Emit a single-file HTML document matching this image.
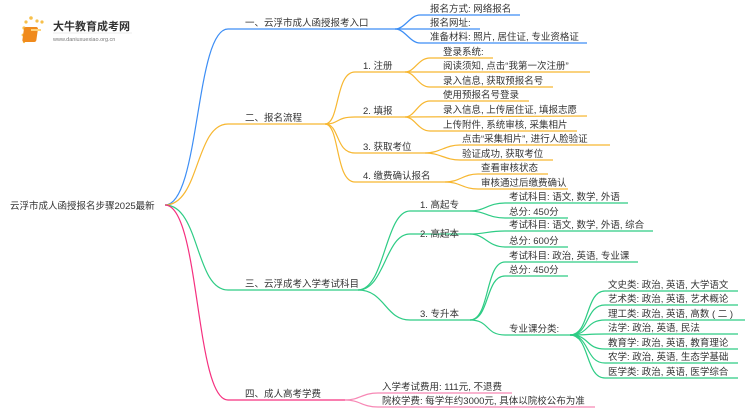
<!DOCTYPE html>
<html><head><meta charset="utf-8"><style>
html,body{margin:0;padding:0;background:#fff;}
svg{display:block;}
text{font-family:"Liberation Sans","Noto Sans CJK SC",sans-serif;font-size:9.5px;fill:#333;}
</style></head><body>
<svg width="750" height="410" viewBox="0 0 750 410" xmlns="http://www.w3.org/2000/svg">
<!-- logo -->
<g>
<circle cx="24" cy="28" r="1.6" fill="#f7c04a"/><circle cx="26" cy="22" r="1.6" fill="#f7c04a"/><circle cx="31" cy="18" r="1.8" fill="#f7c04a"/><circle cx="37" cy="21" r="1.6" fill="#f7c04a"/><circle cx="42" cy="22" r="1.6" fill="#f7c04a"/><circle cx="23" cy="35" r="1.4" fill="#f7c04a"/><circle cx="24" cy="42" r="1.2" fill="#f7c04a"/>
<rect x="28" y="27" width="14" height="15" rx="2" fill="#f08a1c" transform="skewX(-8)"/>
<rect x="31" y="29" width="10" height="2" fill="#ffd27a"/>
<text x="53" y="30" style="font-size:11px;fill:#333;font-weight:bold">大牛教育成考网</text>
<text x="53" y="41" style="font-size:5.5px;fill:#777">www.daniuxuexiao.org.cn</text>
<line x1="53" y1="33" x2="132" y2="33" stroke="#ddd" stroke-width="0.6"/>
</g>

<text x="10" y="209">云浮市成人函授报名步骤2025最新</text>

<g fill="none" stroke-width="1.2">
<!-- blue -->
<g stroke="#3d8ef5">
<path d="M165 205 C200 205 195 29 228 29 L375 29"/>
<path d="M375 29 L395 29"/>
<path d="M395 29 C405 29 410 15 420 15 L520 15"/>
<path d="M395 29 L480 29"/>
<path d="M395 29 C405 29 410 43 420 43 L587 43"/>
</g>
<!-- orange -->
<g stroke="#f7b731">
<path d="M165 205 C200 205 195 124 228 124 L325 124"/>
<path d="M325 124 C340 124 335 72 355 72 L405 72"/>
<path d="M325 124 C340 124 335 117 355 117 L405 117"/>
<path d="M325 124 C340 124 335 153 355 153 L425 153"/>
<path d="M325 124 C340 124 335 182 355 182 L445 182"/>
<path d="M405 72 C415 72 418 58 430 58 L493 58"/>
<path d="M405 72 L590 72"/>
<path d="M405 72 C415 72 418 87 430 87 L553 87"/>
<path d="M405 117 C415 117 418 101 430 101 L529 101"/>
<path d="M405 117 L587 116"/>
<path d="M405 117 C415 117 418 131 430 131 L577 131"/>
<path d="M425 153 C440 153 445 145 460 145 L610 145"/>
<path d="M425 153 C440 153 445 160 460 160 L553 160"/>
<path d="M445 182 C460 182 463 174 478 174 L548 174"/>
<path d="M445 182 C460 182 463 189 478 189 L568 189"/>
</g>
<!-- green -->
<g stroke="#2ecc85">
<path d="M165 205 C200 205 195 290 228 290 L358 290"/>
<path d="M358 290 C385 290 385 211 410 211 L470 211"/>
<path d="M358 290 C385 290 385 234 410 234 L470 234"/>
<path d="M358 290 C385 290 385 320 410 320 L470 320"/>
<path d="M470 211 C485 211 488 203 505 203 L628 203"/>
<path d="M470 211 C485 211 488 218 505 218 L568 218"/>
<path d="M470 234 C485 234 488 231 505 231 L653 231"/>
<path d="M470 234 C485 234 488 247 505 247 L568 247"/>
<path d="M470 320 C490 320 485 262 505 262 L638 262"/>
<path d="M470 320 C490 320 485 276 505 276 L568 276"/>
<path d="M470 320 C490 320 485 335 505 335 L570 335"/>
<path d="M570 335 C590 335 585 291 605 291 L738 291"/>
<path d="M570 335 C590 335 585 305 605 305 L738 305"/>
<path d="M570 335 C590 335 585 320 605 320 L745 320"/>
<path d="M570 335 C590 335 585 334 605 334 L738 334"/>
<path d="M570 335 C590 335 585 349 605 349 L738 349"/>
<path d="M570 335 C590 335 585 363 605 363 L738 363"/>
<path d="M570 335 C590 335 585 378 605 378 L738 378"/>
</g>
<!-- pink -->
<g stroke="#f5307f">
<path d="M165 205 C200 205 195 400 228 400 L345 400"/>
</g>
<g stroke="#f788b5">
<path d="M345 400 C360 400 362 393 378 393 L512 393"/>
<path d="M345 400 C360 400 362 407 378 407 L595 407"/>
</g>
</g>

<!-- labels -->
<text x="245" y="26">一、云浮市成人函授报考入口</text>
<text x="430" y="12">报名方式: 网络报名</text>
<text x="430" y="26">报名网址:</text>
<text x="430" y="40">准备材料: 照片, 居住证, 专业资格证</text>

<text x="245" y="121">二、报名流程</text>
<text x="363" y="69">1. 注册</text>
<text x="363" y="114">2. 填报</text>
<text x="363" y="150">3. 获取考位</text>
<text x="363" y="179">4. 缴费确认报名</text>
<text x="443" y="55">登录系统:</text>
<text x="443" y="69">阅读须知, 点击“我第一次注册”</text>
<text x="443" y="84">录入信息, 获取预报名号</text>
<text x="443" y="98">使用预报名号登录</text>
<text x="443" y="113">录入信息, 上传居住证, 填报志愿</text>
<text x="443" y="128">上传附件, 系统审核, 采集相片</text>
<text x="462" y="142">点击“采集相片”, 进行人脸验证</text>
<text x="462" y="157">验证成功, 获取考位</text>
<text x="481" y="171">查看审核状态</text>
<text x="481" y="186">审核通过后缴费确认</text>

<text x="245" y="287">三、云浮成考入学考试科目</text>
<text x="420" y="208">1. 高起专</text>
<text x="420" y="237">2. 高起本</text>
<text x="420" y="317">3. 专升本</text>
<text x="509" y="200">考试科目: 语文, 数学, 外语</text>
<text x="509" y="215">总分: 450分</text>
<text x="509" y="228">考试科目: 语文, 数学, 外语, 综合</text>
<text x="509" y="244">总分: 600分</text>
<text x="509" y="259">考试科目: 政治, 英语, 专业课</text>
<text x="509" y="273">总分: 450分</text>
<text x="509" y="332">专业课分类:</text>
<text x="608" y="288">文史类: 政治, 英语, 大学语文</text>
<text x="608" y="302">艺术类: 政治, 英语, 艺术概论</text>
<text x="608" y="317">理工类: 政治, 英语, 高数 ( 二 )</text>
<text x="608" y="331">法学: 政治, 英语, 民法</text>
<text x="608" y="346">教育学: 政治, 英语, 教育理论</text>
<text x="608" y="360">农学: 政治, 英语, 生态学基础</text>
<text x="608" y="375">医学类: 政治, 英语, 医学综合</text>

<text x="245" y="397">四、成人高考学费</text>
<text x="382" y="390">入学考试费用: 111元, 不退费</text>
<text x="382" y="404">院校学费: 每学年约3000元, 具体以院校公布为准</text>
</svg>
</body></html>
